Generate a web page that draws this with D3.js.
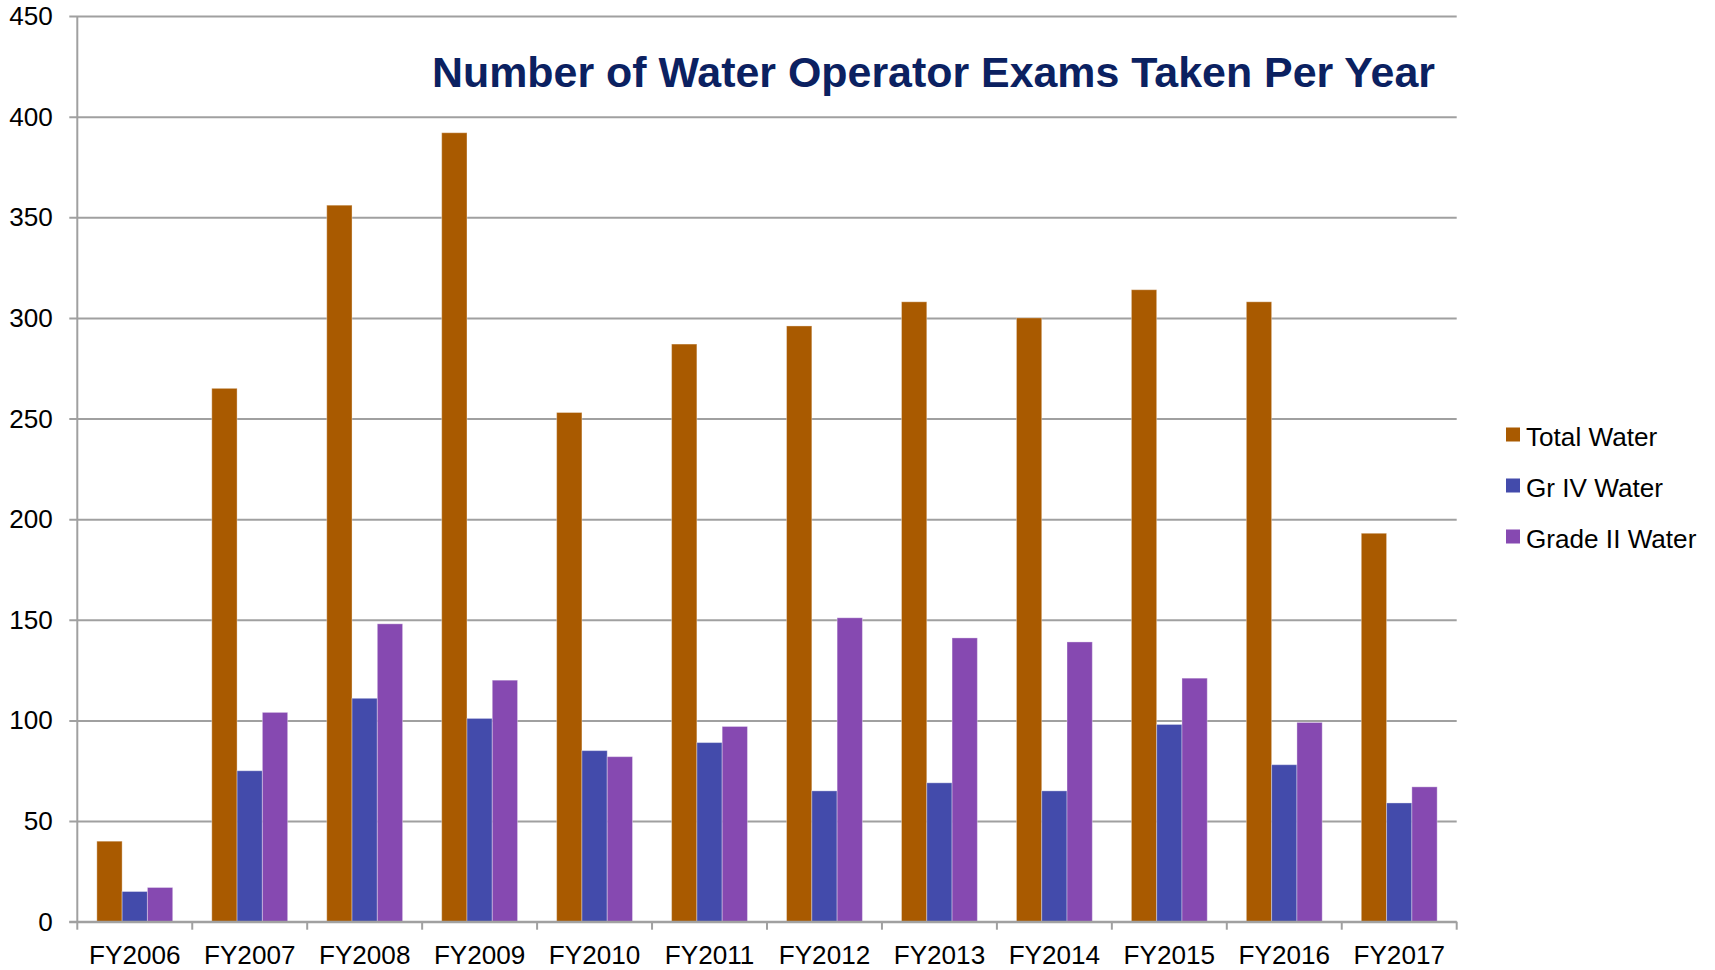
<!DOCTYPE html>
<html>
<head>
<meta charset="utf-8">
<script src="https://cdn.jsdelivr.net/npm/d3@7"></script>
<style>
  html, body { margin: 0; padding: 0; background: #fff; }
  svg { display: block; font-family: "Liberation Sans", Arial, sans-serif; }
</style>
</head>
<body>
<svg id="chart" width="1715" height="970"></svg>
<script>
const categories = ["FY2006","FY2007","FY2008","FY2009","FY2010","FY2011","FY2012","FY2013","FY2014","FY2015","FY2016","FY2017"];
const seriesNames = ["Total Water","Gr IV Water","Grade II Water"];
const totalWater = [40, 265, 356, 392, 253, 287, 296, 308, 300, 314, 308, 193];
const grIVWater  = [15, 75, 111, 101, 85, 89, 65, 69, 65, 98, 78, 59];
const gradeIIWater = [17, 104, 148, 120, 82, 97, 151, 141, 139, 121, 99, 67];
const yTicks = [0, 50, 100, 150, 200, 250, 300, 350, 400, 450];
const colors = ["#A95A00", "#434BAB", "#8649B1"];
const titleText = "Number of Water Operator Exams Taken Per Year";

const seriesValues = [totalWater, grIVWater, gradeIIWater];
const data = categories.map((c, i) => ({
  cat: c,
  vals: seriesNames.map((s, j) => ({ series: s, idx: j, value: seriesValues[j][i] }))
}));

const svg = d3.select("#chart");
const mLeft = 77.3, mRight = 1456.7, mTop = 16, mBottom = 921.7;

const x0 = d3.scaleBand().domain(categories).range([mLeft, mRight]).padding(0);
const bw = x0.bandwidth();
const x1 = d3.scaleBand().domain(seriesNames).range([bw * 0.17, bw * 0.83]).padding(0);
const y = d3.scaleLinear().domain([0, 450]).range([mBottom, mTop]);

const gridColor = "#A0A0A0";
const stretch = sel => sel.each(function () {
  const w = this.getComputedTextLength();
  d3.select(this).attr("textLength", w * 1.045).attr("lengthAdjust", "spacingAndGlyphs");
});

// gridlines + y ticks
const yAxis = d3.axisLeft(y).tickValues(yTicks).tickSize(0).tickPadding(0).tickFormat(d3.format("d"));
const gy = svg.append("g").attr("transform", `translate(${mLeft},0)`).call(yAxis);
gy.select(".domain").remove();
gy.selectAll(".tick line").remove();
gy.selectAll(".tick").append("line")
  .attr("x1", -8).attr("x2", mRight - mLeft)
  .attr("stroke", gridColor).attr("stroke-width", 2);
gy.selectAll(".tick text")
  .attr("x", -24.5).attr("dy", "0.34em")
  .attr("fill", "#000").attr("font-size", 25)
  .attr("font-family", "Liberation Sans, Arial, sans-serif")
  .call(stretch);

// y axis line
svg.append("line")
  .attr("x1", mLeft).attr("x2", mLeft).attr("y1", mTop).attr("y2", mBottom)
  .attr("stroke", gridColor).attr("stroke-width", 2);

// bars
const groups = svg.append("g").selectAll("g").data(data).join("g")
  .attr("transform", d => `translate(${x0(d.cat)},0)`);
groups.selectAll("rect").data(d => d.vals).join("rect")
  .attr("x", d => x1(d.series))
  .attr("width", x1.bandwidth())
  .attr("y", d => y(d.value))
  .attr("height", d => y(0) - y(d.value))
  .attr("fill", d => colors[d.idx])
  .attr("stroke", "rgba(255,255,255,0.35)")
  .attr("stroke-width", 1);

// x axis
const xAxis = d3.axisBottom(x0).tickSize(0).tickPadding(0);
const gx = svg.append("g").attr("transform", `translate(0,${mBottom})`).call(xAxis);
gx.select(".domain").remove();
gx.selectAll(".tick text")
  .attr("y", 42).attr("dy", 0)
  .attr("fill", "#000").attr("font-size", 25)
  .attr("font-family", "Liberation Sans, Arial, sans-serif")
  .call(stretch);
svg.append("line")
  .attr("x1", mLeft - 8).attr("x2", mRight).attr("y1", mBottom).attr("y2", mBottom)
  .attr("stroke", gridColor).attr("stroke-width", 2);
const boundaries = categories.map(c => x0(c)).concat([mRight]);
svg.append("g").selectAll("line").data(boundaries).join("line")
  .attr("x1", d => d).attr("x2", d => d)
  .attr("y1", mBottom).attr("y2", mBottom + 8)
  .attr("stroke", gridColor).attr("stroke-width", 2);

// title
svg.append("text")
  .attr("x", 432).attr("y", 87)
  .attr("font-size", 42).attr("font-weight", "bold")
  .attr("fill", "#0B2161")
  .attr("textLength", 1003).attr("lengthAdjust", "spacingAndGlyphs")
  .text(titleText);

// legend
const legend = svg.append("g").selectAll("g").data(seriesNames).join("g")
  .attr("transform", (d, i) => `translate(1506,${446 + i * 51})`);
legend.append("rect")
  .attr("x", 0).attr("y", -18.5).attr("width", 14).attr("height", 14)
  .attr("fill", (d, i) => colors[i]);
legend.append("text")
  .attr("x", 20).attr("y", 0)
  .attr("font-size", 25).attr("fill", "#000")
  .text(d => d)
  .call(stretch);
</script>
</body>
</html>
